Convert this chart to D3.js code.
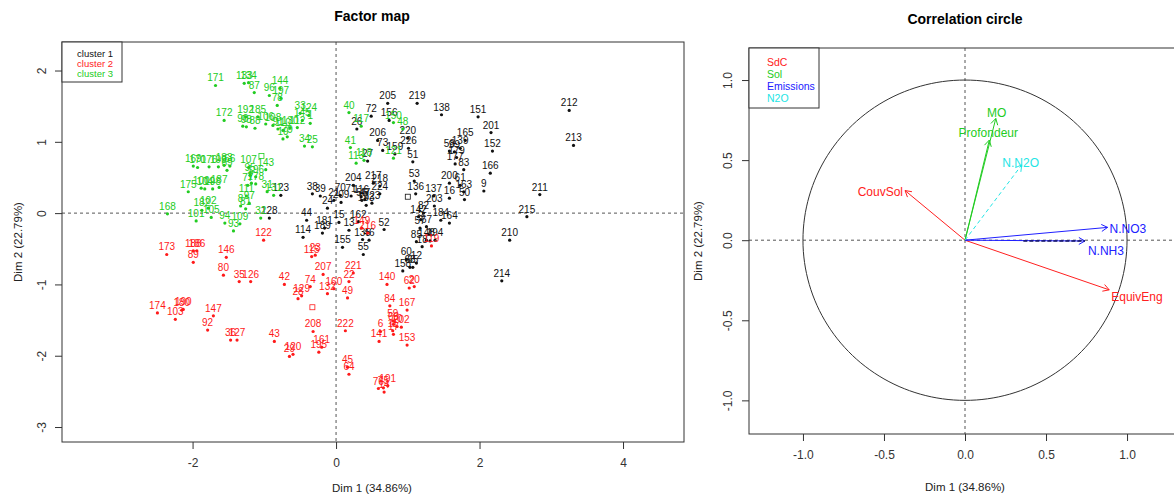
<!DOCTYPE html>
<html>
<head>
<meta charset="utf-8">
<script src="https://cdn.jsdelivr.net/npm/d3@7"></script>
<style>
body { margin: 0; background: #fff; }
text { font-family: "Liberation Sans", Arial, sans-serif; }
</style>
</head>
<body>
<script>
// individuals on Dim 1 / Dim 2, one array per cluster: [label, dim1, dim2]
const cluster1 = [
  ["205",0.72,1.54],["219",1.13,1.54],["72",0.49,1.36],["26",0.29,1.18],["156",0.74,1.30],["138",1.47,1.38],
  ["151",1.98,1.35],["206",0.58,1.02],["73",0.65,0.88],["159",0.82,0.83],["220",1.00,1.05],["226",1.01,0.91],
  ["27",0.44,0.73],["51",1.07,0.72],["53",1.09,0.45],["136",1.11,0.27],["58",1.58,0.87],["165",1.80,1.02],
  ["139",1.73,0.91],["99",1.65,0.86],["179",1.68,0.78],["177",1.66,0.69],["83",1.78,0.61],["201",2.16,1.13],
  ["152",2.18,0.87],["166",2.15,0.56],["9",2.06,0.31],["200",1.58,0.42],["61",1.73,0.39],["163",1.78,0.30],
  ["50",1.79,0.19],["16",1.58,0.21],["137",1.36,0.24],["203",1.37,0.10],["212",3.25,1.44],["213",3.31,0.95],
  ["211",2.84,0.26],["215",2.66,-0.05],["210",2.42,-0.38],["214",2.31,-0.95],["184",1.46,-0.10],["164",1.58,-0.14],
  ["82",1.22,0.00],["142",1.15,-0.05],["5",1.18,-0.09],["67",1.26,-0.19],["57",1.17,-0.21],["85",1.12,-0.40],
  ["18",1.20,-0.47],["148",1.26,-0.38],["4",1.31,-0.39],["194",1.38,-0.38],["60",0.98,-0.65],["158",0.93,-0.81],
  ["68",1.03,-0.76],["12",1.12,-0.70],["65",1.07,-0.76],["38",-0.33,0.27],["39",-0.22,0.24],["24",-0.12,0.07],
  ["21",-0.03,0.18],["209",0.07,0.15],["70",0.06,0.25],["71",0.21,0.24],["116",0.35,0.23],["56",0.36,0.18],
  ["47",0.40,0.19],["223",0.50,0.14],["193",0.42,0.11],["123",-0.77,0.25],["128",-0.93,-0.07],["204",0.24,0.39],
  ["217",0.52,0.42],["218",0.61,0.38],["224",0.61,0.27],["44",-0.41,-0.10],["114",-0.46,-0.34],["181",-0.16,-0.21],
  ["189",-0.19,-0.28],["15",0.04,-0.13],["162",0.31,-0.12],["13",0.18,-0.24],["155",0.09,-0.48],["135",0.37,-0.37],
  ["46",0.46,-0.38],["55",0.38,-0.58],["52",0.67,-0.23]
];
const cluster2 = [
  ["173",-2.36,-0.58],["188",-1.99,-0.53],["186",-1.94,-0.53],["89",-1.99,-0.69],["146",-1.53,-0.62],["80",-1.57,-0.87],
  ["35",-1.35,-0.96],["126",-1.19,-0.96],["122",-1.01,-0.38],["42",-0.72,-1.00],["74",-0.36,-1.03],["129",-0.48,-1.16],
  ["28",-0.53,-1.20],["115",-0.34,-0.61],["23",-0.29,-0.59],["207",-0.18,-0.86],["132",-0.12,-1.13],["160",-0.03,-1.06],
  ["221",0.24,-0.84],["22",0.18,-0.96],["49",0.16,-1.19],["174",-2.49,-1.40],["190",-2.13,-1.35],["180",-2.15,-1.36],
  ["103",-2.24,-1.49],["147",-1.71,-1.44],["92",-1.79,-1.64],["36",-1.47,-1.78],["127",-1.38,-1.78],["43",-0.86,-1.80],
  ["29",-0.65,-2.01],["120",-0.60,-1.98],["208",-0.32,-1.66],["161",-0.20,-1.88],["195",-0.24,-1.95],["222",0.13,-1.65],
  ["45",0.16,-2.16],["64",0.18,-2.26],["140",0.71,-1.00],["62",1.02,-1.05],["20",1.09,-1.03],["84",0.75,-1.30],
  ["167",0.99,-1.36],["59",0.79,-1.51],["6",0.62,-1.66],["63",0.80,-1.56],["10",0.85,-1.59],["202",0.91,-1.60],
  ["11",0.79,-1.65],["17",0.80,-1.70],["141",0.60,-1.80],["153",0.99,-1.85],["76",0.59,-2.46],["75",0.66,-2.45],
  ["191",0.72,-2.42],["14",0.67,-2.51],["149",0.36,-0.21],["216",0.44,-0.28],["119",1.33,-0.46]
];
const cluster3 = [
  ["171",-1.68,1.79],["133",-1.28,1.82],["134",-1.22,1.83],["87",-1.14,1.69],["96",-0.93,1.65],["144",-0.78,1.75],
  ["197",-0.77,1.61],["78",-0.82,1.51],["172",-1.56,1.30],["192",-1.26,1.35],["185",-1.09,1.35],["90",-1.30,1.22],
  ["98",-1.25,1.21],["88",-1.13,1.19],["106",-0.98,1.25],["108",-0.88,1.23],["91",-0.81,1.18],["110",-0.74,1.16],
  ["130",-0.64,1.20],["112",-0.54,1.20],["145",-0.47,1.30],["1",-0.36,1.26],["33",-0.50,1.40],["124",-0.38,1.37],
  ["19",-0.74,1.04],["79",-0.68,1.07],["34",-0.44,0.94],["25",-0.33,0.93],["169",-1.99,0.66],["170",-1.93,0.64],
  ["176",-1.77,0.65],["199",-1.64,0.65],["183",-1.56,0.67],["69",-1.52,0.60],["66",-1.48,0.66],["143",-0.98,0.61],
  ["107",-1.22,0.64],["95",-1.20,0.53],["196",-1.12,0.51],["77",-1.23,0.39],["7",-1.18,0.42],["178",-1.12,0.41],
  ["31",-0.96,0.30],["131",-0.87,0.25],["175",-2.06,0.30],["100",-1.88,0.35],["104",-1.83,0.34],["198",-1.72,0.34],
  ["187",-1.63,0.36],["111",-1.25,0.24],["8",-1.33,0.10],["81",-1.26,0.06],["97",-1.21,0.14],["168",-2.35,-0.01],
  ["182",-1.87,0.04],["102",-1.78,0.07],["101",-1.95,-0.11],["105",-1.74,-0.06],["94",-1.55,-0.14],["109",-1.34,-0.15],
  ["93",-1.43,-0.25],["32",-1.05,-0.07],["40",0.18,1.41],["117",0.35,1.22],["150",0.80,1.27],["48",0.93,1.18],
  ["41",0.20,0.92],["113",0.28,0.70],["118",0.39,0.74],["121",0.80,0.77]
];
// cluster centres (small squares)
const centres = [[1.00,0.23],[-0.33,-1.32],[-1.04,0.80]];
const clusterNames = ["cluster 1","cluster 2","cluster 3"];
const clusterColors = ["#111111","#ff1a1a","#22cc22"];
const mapXTicks = [-2,0,2,4];
const mapYTicks = [-3,-2,-1,0,1,2];

// variables on the correlation circle
const corrVars  = ["CouvSol","EquivEng","MO","Profondeur","N.NO3","N.NH3","N.N2O"];
const corrDim1  = [-0.37, 0.89, 0.19, 0.15, 0.88, 0.74, 0.35];
const corrDim2  = [0.31, -0.31, 0.76, 0.625, 0.08, -0.005, 0.47];
const corrGroup = ["SdC","SdC","Sol","Sol","Emissions","Emissions","N2O"];
const corrLabelSide = ["left","belowright","above","above2","right","belowright2","above3"];
const groups = ["SdC","Sol","Emissions","N2O"];
const groupColors = ["#ff2020","#22cc22","#2020ff","#22e5e5"];
const nh3Overlay = [0.36, 0.74];
const corrTicks = [-1,-0.5,0,0.5,1];

let svg = d3.select("body").append("svg")
    .attr("width", 1174)
    .attr("height", 497);

const axisCol = "#333";

// ---------------- Factor map ----------------
const fx = d3.scaleLinear().domain([-3.82,4.85]).range([62,684]);
const fy = d3.scaleLinear().domain([-3.21,2.40]).range([442,42]);

svg.append("text").attr("x",372).attr("y",21).attr("text-anchor","middle")
    .attr("font-size",14).attr("font-weight","bold").text("Factor map");

// dashed origin lines
svg.append("line").attr("x1",fx(0)).attr("x2",fx(0)).attr("y1",42).attr("y2",442)
    .attr("stroke","#555").attr("stroke-dasharray","3,3");
svg.append("line").attr("x1",62).attr("x2",684).attr("y1",fy(0)).attr("y2",fy(0))
    .attr("stroke","#555").attr("stroke-dasharray","3,3");

let gx = svg.append("g").attr("transform","translate(0,442)")
    .call(d3.axisBottom(fx).tickValues(mapXTicks).tickSize(7).tickPadding(9).tickFormat(d => String(d)));
let gy = svg.append("g").attr("transform","translate(62,0)")
    .call(d3.axisLeft(fy).tickValues(mapYTicks).tickSize(7).tickFormat(d => String(d)));
[gx, gy].forEach(g => {
    g.select(".domain").remove();
    g.selectAll("line").attr("stroke",axisCol);
    g.selectAll("text").attr("font-size",12).attr("fill","#333").attr("font-family","Liberation Sans, Arial, sans-serif");
});
gy.selectAll("text").attr("transform","rotate(-90)").attr("x",0).attr("y",-20).attr("dy","0.35em")
    .style("text-anchor","middle");

svg.append("rect").attr("x",62).attr("y",42).attr("width",622).attr("height",400)
    .attr("fill","none").attr("stroke",axisCol);

svg.append("text").attr("x",372).attr("y",492).attr("text-anchor","middle")
    .attr("font-size",11.5).attr("fill","#222").text("Dim 1 (34.86%)");
svg.append("text").attr("transform","translate(22,242) rotate(-90)").attr("text-anchor","middle")
    .attr("font-size",11.5).attr("fill","#222").text("Dim 2 (22.79%)");

[cluster1, cluster2, cluster3].forEach((pts, ci) => {
    let g = svg.append("g");
    g.selectAll("circle").data(pts).enter().append("circle")
        .attr("cx", d => fx(d[1])).attr("cy", d => fy(d[2])).attr("r",1.6)
        .attr("fill", clusterColors[ci]);
    g.selectAll("text").data(pts).enter().append("text")
        .attr("x", d => fx(d[1])).attr("y", d => fy(d[2]) - 4)
        .attr("text-anchor","middle").attr("font-size",10)
        .attr("fill", clusterColors[ci]).text(d => d[0]);
});
svg.selectAll("rect.centre").data(centres).enter().append("rect").attr("class","centre")
    .attr("x", d => fx(d[0]) - 2.5).attr("y", d => fy(d[1]) - 2.5)
    .attr("width",5).attr("height",5).attr("fill","none")
    .attr("stroke", (d,i) => clusterColors[i]).attr("stroke-width",0.8);

// legend
svg.append("rect").attr("x",62).attr("y",42).attr("width",60).attr("height",40)
    .attr("fill","#fff").attr("stroke",axisCol);
svg.selectAll("text.leg1").data(clusterNames).enter().append("text").attr("class","leg1")
    .attr("x",113).attr("y",(d,i) => 57 + i*10).attr("text-anchor","end")
    .attr("font-size",9.5).attr("fill",(d,i) => clusterColors[i]).text(d => d);

// ---------------- Correlation circle ----------------
const cx = d3.scaleLinear().domain([-1.333,1.333]).range([749,1181]);
const cy = d3.scaleLinear().domain([-1.21,1.2]).range([434,48]);

svg.append("text").attr("x",965).attr("y",24).attr("text-anchor","middle")
    .attr("font-size",14).attr("font-weight","bold").text("Correlation circle");

svg.append("line").attr("x1",cx(0)).attr("x2",cx(0)).attr("y1",48).attr("y2",434)
    .attr("stroke","#555").attr("stroke-dasharray","3,3");
svg.append("line").attr("x1",749).attr("x2",1181).attr("y1",cy(0)).attr("y2",cy(0))
    .attr("stroke","#555").attr("stroke-dasharray","3,3");

let circ = d3.range(0, 361, 2).map(a => [Math.cos(a*Math.PI/180), Math.sin(a*Math.PI/180)]);
svg.append("path").datum(circ)
    .attr("d", d3.line().x(d => cx(d[0])).y(d => cy(d[1])))
    .attr("fill","none").attr("stroke","#333").attr("stroke-width",1);

let cgx = svg.append("g").attr("transform","translate(0,434)")
    .call(d3.axisBottom(cx).tickValues(corrTicks).tickSize(7).tickPadding(9).tickFormat(d => d.toFixed(1)));
let cgy = svg.append("g").attr("transform","translate(749,0)")
    .call(d3.axisLeft(cy).tickValues(corrTicks).tickSize(7).tickFormat(d => d.toFixed(1)));
[cgx, cgy].forEach(g => {
    g.select(".domain").remove();
    g.selectAll("line").attr("stroke",axisCol);
    g.selectAll("text").attr("font-size",12).attr("fill","#333").attr("font-family","Liberation Sans, Arial, sans-serif");
});
cgy.selectAll("text").attr("transform","rotate(-90)").attr("x",0).attr("y",-21).attr("dy","0.35em")
    .style("text-anchor","middle");

svg.append("rect").attr("x",749).attr("y",48).attr("width",440).attr("height",386)
    .attr("fill","none").attr("stroke",axisCol);

svg.append("text").attr("x",965).attr("y",491).attr("text-anchor","middle")
    .attr("font-size",11.5).attr("fill","#222").text("Dim 1 (34.86%)");
svg.append("text").attr("transform","translate(702,241) rotate(-90)").attr("text-anchor","middle")
    .attr("font-size",11.5).attr("fill","#222").text("Dim 2 (22.79%)");

function arrow(x0, y0, x1, y1, col, dash, w) {
    let a = Math.atan2(y1 - y0, x1 - x0), L = 7, s = Math.PI / 6;
    let g = svg.append("g").attr("stroke", col).attr("stroke-width", w || 1).attr("fill","none");
    g.append("line").attr("x1",x0).attr("y1",y0).attr("x2",x1).attr("y2",y1)
        .attr("stroke-dasharray", dash ? "4,3" : null);
    g.append("path").attr("d",
        "M" + (x1 - L*Math.cos(a - s)) + "," + (y1 - L*Math.sin(a - s)) +
        "L" + x1 + "," + y1 +
        "L" + (x1 - L*Math.cos(a + s)) + "," + (y1 - L*Math.sin(a + s)));
}

corrVars.forEach((v, i) => {
    let col = groupColors[groups.indexOf(corrGroup[i])];
    arrow(cx(0), cy(0), cx(corrDim1[i]), cy(corrDim2[i]), col, corrGroup[i] === "N2O", 1);
});
// dark dashed overlay along N.NH3
svg.append("line").attr("x1",cx(nh3Overlay[0])).attr("x2",cx(nh3Overlay[1]))
    .attr("y1",cy(corrDim2[5])).attr("y2",cy(corrDim2[5]))
    .attr("stroke","#101060").attr("stroke-width",1.3).attr("stroke-dasharray","4,2");

corrVars.forEach((v, i) => {
    let col = groupColors[groups.indexOf(corrGroup[i])];
    let x = cx(corrDim1[i]), y = cy(corrDim2[i]);
    let side = corrLabelSide[i], anchor = "middle", tx = x, ty = y;
    if (side === "left")        { anchor = "end";   tx = x - 2; ty = y + 5; }
    if (side === "right")       { anchor = "start"; tx = x + 2; ty = y + 6; }
    if (side === "above")       { tx = x + 1; ty = y - 1; }
    if (side === "above2")      { tx = x - 1; ty = y - 3; }
    if (side === "above3")      { tx = x - 1; ty = y + 2; }
    if (side === "belowright")  { anchor = "start"; tx = x + 2; ty = y + 11; }
    if (side === "belowright2") { anchor = "start"; tx = x + 3; ty = y + 14; }
    svg.append("text").attr("x",tx).attr("y",ty).attr("text-anchor",anchor)
        .attr("font-size",12).attr("fill",col).text(v);
});

// legend
svg.append("rect").attr("x",749).attr("y",48).attr("width",70).attr("height",60)
    .attr("fill","#fff").attr("stroke",axisCol);
svg.selectAll("text.leg2").data(groups).enter().append("text").attr("class","leg2")
    .attr("x",767).attr("y",(d,i) => 65.5 + i*12)
    .attr("font-size",10.5).attr("fill",(d,i) => groupColors[i]).text(d => d);
</script>
</body>
</html>
